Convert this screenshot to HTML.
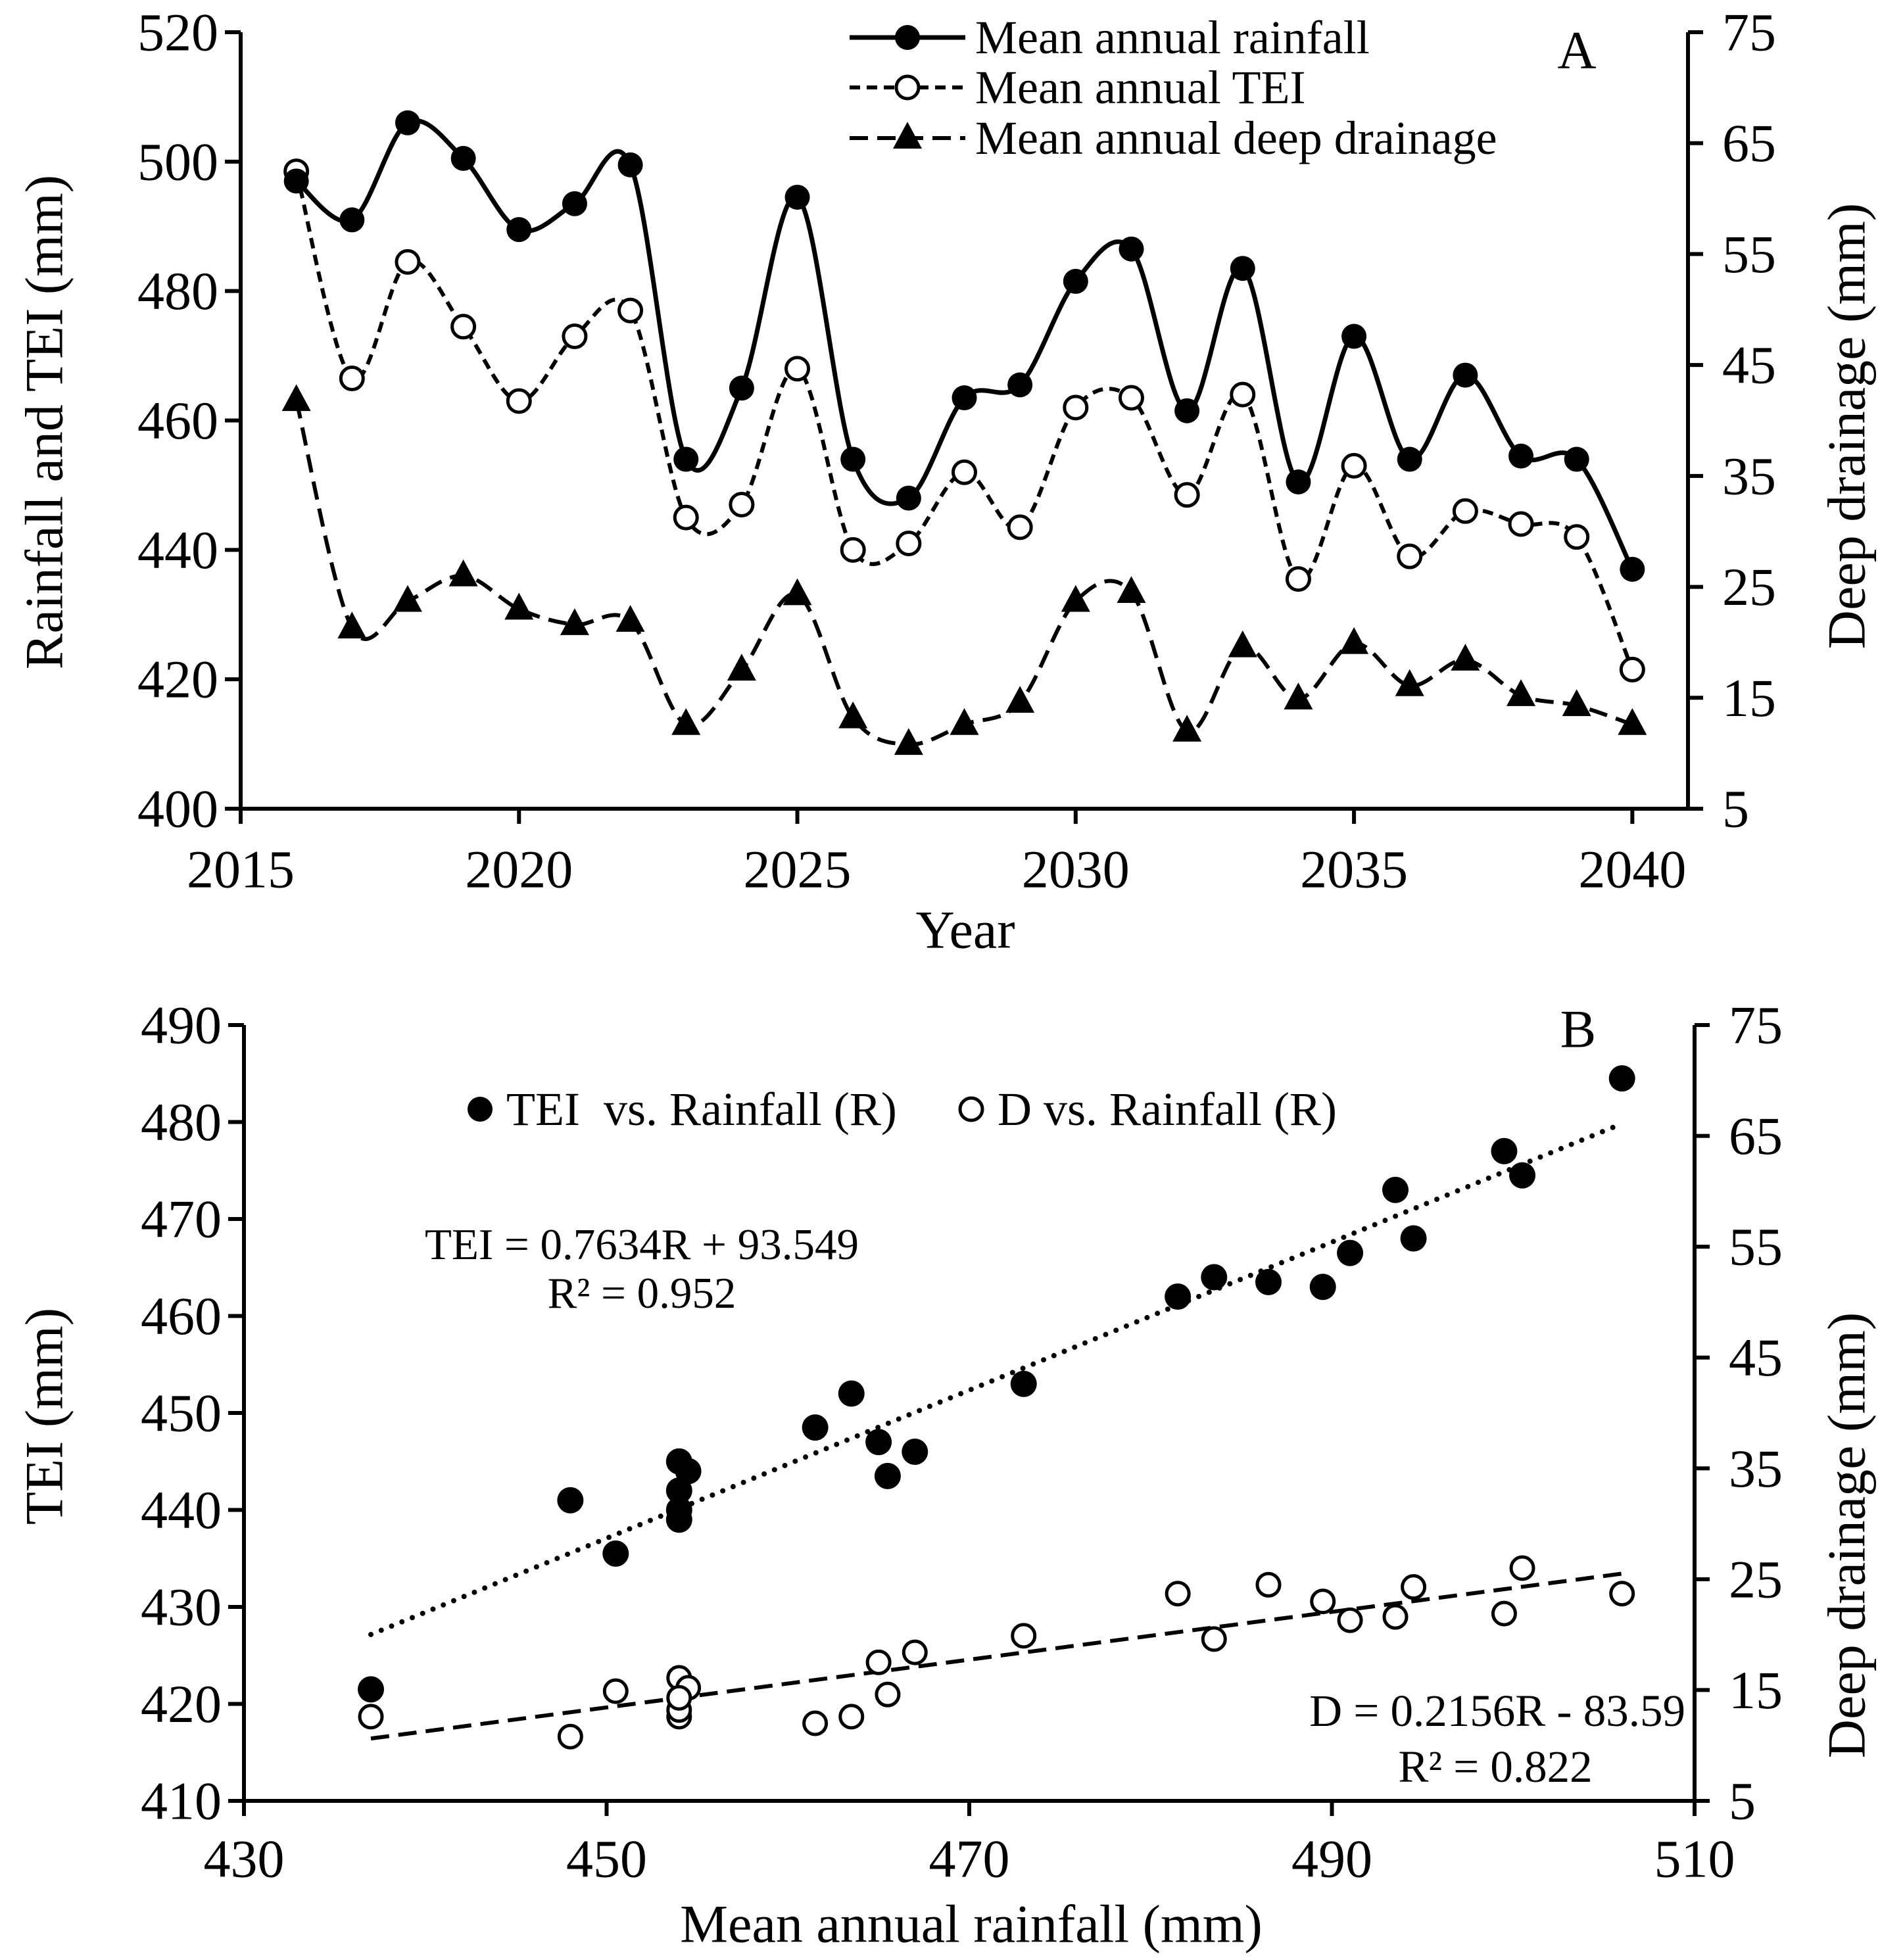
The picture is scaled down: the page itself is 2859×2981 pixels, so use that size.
<!DOCTYPE html>
<html><head><meta charset="utf-8">
<style>
html,body{margin:0;padding:0;background:#fff;}
svg{display:block;font-family:"Liberation Serif",serif;}
text{font-family:"Liberation Serif",serif;}
</style></head>
<body>
<svg id="chart" width="2859" height="2981" viewBox="0 0 2859 2981" xmlns="http://www.w3.org/2000/svg" font-family="Liberation Serif, serif">
<rect width="2859" height="2981" fill="#fff"/>
</svg>
<script>
const years = [2016,2017,2018,2019,2020,2021,2022,2023,2024,2025,2026,2027,2028,2029,2030,2031,2032,2033,2034,2035,2036,2037,2038,2039,2040];
const rainfall = [497,491,506,500.5,489.5,493.5,499.5,454,465,494.5,454,448,463.5,465.5,481.5,486.5,461.5,483.5,450.5,473,454,467,454.5,454,437];
const tei = [498.5,466.5,484.5,474.5,463,473,477,445,447,468,440,441,452,443.5,462,463.5,448.5,464,435.5,453,439,446,444,442,421.5];
const drainage = [41.8,21.3,23.7,26,23,21.6,21.9,12.6,17.5,24.3,13.2,10.8,12.6,14.6,23.7,24.5,12,19.6,14.9,19.9,16.1,18.4,15.2,14.3,12.6];
const yearTicks = [2015,2020,2025,2030,2035,2040];
const leftTicksA = [400,420,440,460,480,500,520];
const rightTicks = [5,15,25,35,45,55,65,75];
const rainTicksB = [430,450,470,490,510];
const teiTicksB = [410,420,430,440,450,460,470,480,490];
const teiSlope = 0.7634, teiIntercept = 93.549;
const dSlope = 0.2156, dIntercept = -83.59;

const NS = "http://www.w3.org/2000/svg";
const svg = document.getElementById('chart');
function mk(tag, attrs, parent){
  const e = document.createElementNS(NS, tag);
  for (const k in attrs) e.setAttribute(k, attrs[k]);
  (parent||svg).appendChild(e);
  return e;
}
function txt(str, attrs, parent){
  attrs['font-family'] = 'Liberation Serif, serif';
  const e = mk('text', attrs, parent); e.textContent = str; return e;
}

const A = {x0:366,x1:2567,y0:49,y1:1230};
const ax = v => A.x0 + (v-2015)/(2041-2015)*(A.x1-A.x0);
const ayL = v => A.y1 - (v-400)/(520-400)*(A.y1-A.y0);
const ayR = v => A.y1 - (v-5)/(75-5)*(A.y1-A.y0);
const B = {x0:371,x1:2577,y0:1559,y1:2739};
const bx = v => B.x0 + (v-430)/(510-430)*(B.x1-B.x0);
const byL = v => B.y1 - (v-410)/(490-410)*(B.y1-B.y0);
const byR = v => B.y1 - (v-5)/(75-5)*(B.y1-B.y0);

function smoothPath(pts){
  let d = `M${pts[0][0]},${pts[0][1]}`;
  for (let i=0;i<pts.length-1;i++){
    const p0 = pts[Math.max(0,i-1)], p1 = pts[i], p2 = pts[i+1], p3 = pts[Math.min(pts.length-1,i+2)];
    const c1 = [p1[0]+(p2[0]-p0[0])/6, p1[1]+(p2[1]-p0[1])/6];
    const c2 = [p2[0]-(p3[0]-p1[0])/6, p2[1]-(p3[1]-p1[1])/6];
    d += ` C${c1[0]},${c1[1]} ${c2[0]},${c2[1]} ${p2[0]},${p2[1]}`;
  }
  return d;
}
function tri(cx, cy, s){
  return `${cx},${cy-s*0.62} ${cx-s*0.55},${cy+s*0.4} ${cx+s*0.55},${cy+s*0.4}`;
}

// ===== Panel A =====
const gA = mk('g', {});


const axA = mk('path', {d:`M${A.x0},${A.y0} V${A.y1} H${A.x1} V${A.y0}`, fill:'none', stroke:'#000', 'stroke-width':6}, gA);


leftTicksA.forEach(v=>{
  const y = ayL(v);
  const t = mk('line', {x1:A.x0-24, x2:A.x0, y1:y, y2:y, stroke:'#000','stroke-width':6}, gA);
  
  
  const l = txt(String(v), {x:A.x0-34, y:y, 'font-size':82, 'text-anchor':'end', 'dominant-baseline':'central'}, gA);
  
  
});
rightTicks.forEach(v=>{
  const y = ayR(v);
  const t = mk('line', {x1:A.x1, x2:A.x1+23, y1:y, y2:y, stroke:'#000','stroke-width':6}, gA);
  
  
  const l = txt(String(v), {x:A.x1+52, y:y, 'font-size':82, 'dominant-baseline':'central'}, gA);
  
  
});
yearTicks.forEach(v=>{
  const x = ax(v);
  const t = mk('line', {x1:x, x2:x, y1:A.y1, y2:A.y1+23, stroke:'#000','stroke-width':6}, gA);
  
  
  const l = txt(String(v), {x:x, y:A.y1+92, 'font-size':82, 'text-anchor':'middle', 'dominant-baseline':'central'}, gA);
  
  
});
let e;
e = txt('Year', {x:1468, y:1414, 'font-size':82, 'text-anchor':'middle', 'dominant-baseline':'central'}, gA);


e = txt('Rainfall and TEI (mm)', {x:0, y:0, 'font-size':82, 'text-anchor':'middle', 'dominant-baseline':'central', transform:'translate(67,642) rotate(-90)'}, gA);


e = txt('Deep drainage (mm)', {x:0, y:0, 'font-size':82, 'text-anchor':'middle', 'dominant-baseline':'central', transform:'translate(2808,648) rotate(-90)'}, gA);


e = txt('A', {x:2398, y:76, 'font-size':82, 'text-anchor':'middle', 'dominant-baseline':'central'}, gA);



const rainPts = years.map((y,i)=>[ax(y), ayL(rainfall[i])]);
const teiPts = years.map((y,i)=>[ax(y), ayL(tei[i])]);
const drPts = years.map((y,i)=>[ax(y), ayR(drainage[i])]);
e = mk('path', {d:smoothPath(drPts), fill:'none', stroke:'#000','stroke-width':6,'stroke-dasharray':'28 14'}, gA);


e = mk('path', {d:smoothPath(teiPts), fill:'none', stroke:'#000','stroke-width':6,'stroke-dasharray':'16 10'}, gA);


e = mk('path', {d:smoothPath(rainPts), fill:'none', stroke:'#000','stroke-width':7}, gA);


drPts.forEach(p=>{
  const m = mk('polygon', {points:tri(p[0],p[1],40), fill:'#000'}, gA);
  
  
});
teiPts.forEach(p=>{
  const m = mk('circle', {cx:p[0], cy:p[1], r:17, fill:'#fff', stroke:'#000','stroke-width':5}, gA);
  
  
});
rainPts.forEach(p=>{
  const m = mk('circle', {cx:p[0], cy:p[1], r:19, fill:'#000'}, gA);
  
  
});
const legA = mk('g', {}, gA);


[['Mean annual rainfall',57,'solid'],['Mean annual TEI',133,'tei'],['Mean annual deep drainage',210,'dr']].forEach(it=>{
  const y = it[1];
  const attrs = {x1:1292, x2:1468, y1:y, y2:y, stroke:'#000','stroke-width':it[2]==='solid'?7:6};
  if (it[2]==='tei') attrs['stroke-dasharray']='16 10';
  if (it[2]==='dr') attrs['stroke-dasharray']='28 14';
  const ln = mk('line', attrs, legA);
  
  
  let mkr;
  if (it[2]==='solid') mkr = mk('circle', {cx:1380, cy:y, r:19, fill:'#000'}, legA);
  else if (it[2]==='tei') mkr = mk('circle', {cx:1380, cy:y, r:17, fill:'#fff', stroke:'#000','stroke-width':5}, legA);
  else mkr = mk('polygon', {points:tri(1380,y,40), fill:'#000'}, legA);
  
  
  const t = txt(it[0], {x:1483, y:y, 'font-size':72, 'dominant-baseline':'central'}, legA);
  
  
});

// ===== Panel B =====
const gB = mk('g', {});


e = mk('path', {d:`M${B.x0},${B.y0} V${B.y1} H${B.x1} V${B.y0}`, fill:'none', stroke:'#000','stroke-width':6}, gB);


teiTicksB.forEach(v=>{
  const y = byL(v);
  const t = mk('line', {x1:B.x0-24, x2:B.x0, y1:y, y2:y, stroke:'#000','stroke-width':6}, gB);
  
  
  const l = txt(String(v), {x:B.x0-34, y:y, 'font-size':82, 'text-anchor':'end', 'dominant-baseline':'central'}, gB);
  
  
});
rightTicks.forEach(v=>{
  const y = byR(v);
  const t = mk('line', {x1:B.x1, x2:B.x1+23, y1:y, y2:y, stroke:'#000','stroke-width':6}, gB);
  
  
  const l = txt(String(v), {x:B.x1+52, y:y, 'font-size':82, 'dominant-baseline':'central'}, gB);
  
  
});
rainTicksB.forEach(v=>{
  const x = bx(v);
  const t = mk('line', {x1:x, x2:x, y1:B.y1, y2:B.y1+23, stroke:'#000','stroke-width':6}, gB);
  
  
  const l = txt(String(v), {x:x, y:B.y1+88, 'font-size':82, 'text-anchor':'middle', 'dominant-baseline':'central'}, gB);
  
  
});
e = txt('Mean annual rainfall (mm)', {x:1477, y:2926, 'font-size':82, 'text-anchor':'middle', 'dominant-baseline':'central'}, gB);


e = txt('TEI (mm)', {x:0, y:0, 'font-size':82, 'text-anchor':'middle', 'dominant-baseline':'central', transform:'translate(67,2154) rotate(-90)'}, gB);


e = txt('Deep drainage (mm)', {x:0, y:0, 'font-size':82, 'text-anchor':'middle', 'dominant-baseline':'central', transform:'translate(2808,2335) rotate(-90)'}, gB);


e = txt('B', {x:2400, y:1565, 'font-size':82, 'text-anchor':'middle', 'dominant-baseline':'central'}, gB);



const rMin = Math.min(...rainfall), rMax = Math.max(...rainfall);
e = mk('line', {x1:bx(rMin), y1:byL(teiSlope*rMin+teiIntercept), x2:bx(rMax), y2:byL(teiSlope*rMax+teiIntercept), stroke:'#000','stroke-width':8,'stroke-linecap':'round','stroke-dasharray':'0 17'}, gB);


e = mk('line', {x1:bx(rMin), y1:byR(dSlope*rMin+dIntercept), x2:bx(rMax), y2:byR(dSlope*rMax+dIntercept), stroke:'#000','stroke-width':6,'stroke-dasharray':'28 14'}, gB);


rainfall.forEach((r,i)=>{
  if (i===0) return;
  const m = mk('circle', {cx:bx(r), cy:byR(drainage[i]), r:17, fill:'#fff', stroke:'#000','stroke-width':5}, gB);
  
  
});
rainfall.forEach((r,i)=>{
  if (i===0) return;
  const m = mk('circle', {cx:bx(r), cy:byL(tei[i]), r:20, fill:'#000'}, gB);
  
  
});
const legB = mk('g', {}, gB);


e = mk('circle', {cx:730, cy:1687, r:19, fill:'#000'}, legB);


e = txt('TEI\u00a0 vs. Rainfall (R)', {x:770, y:1687, 'font-size':72, 'dominant-baseline':'central'}, legB);


e = mk('circle', {cx:1477, cy:1687, r:17, fill:'#fff', stroke:'#000','stroke-width':5}, legB);


e = txt('D vs. Rainfall (R)', {x:1517, y:1687, 'font-size':72, 'dominant-baseline':'central'}, legB);


e = txt('TEI = 0.7634R + 93.549', {x:976, y:1893, 'font-size':67, 'text-anchor':'middle', 'dominant-baseline':'central'}, gB);


e = txt('R² = 0.952', {x:976, y:1967, 'font-size':67, 'text-anchor':'middle', 'dominant-baseline':'central'}, gB);


e = txt('D = 0.2156R - 83.59', {x:2563, y:2602, 'font-size':69, 'text-anchor':'end', 'dominant-baseline':'central'}, gB);


e = txt('R² = 0.822', {x:2274, y:2687, 'font-size':69, 'text-anchor':'middle', 'dominant-baseline':'central'}, gB);


</script>
</body></html>
